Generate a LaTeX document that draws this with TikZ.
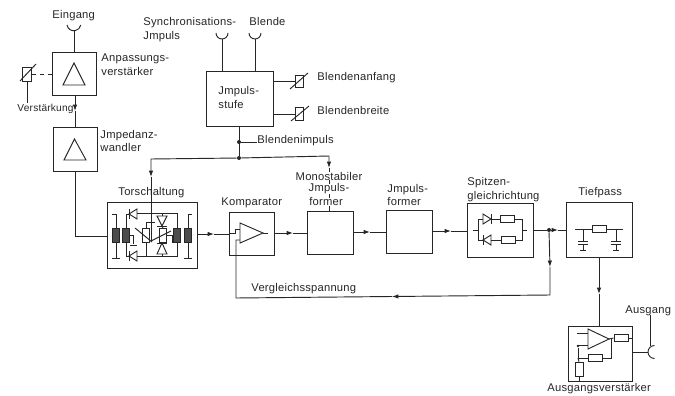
\documentclass[tikz,border=0pt]{standalone}
\usepackage{fontspec}
\setmainfont[LetterSpace=2]{Liberation Sans}
\usetikzlibrary{positioning,arrows.meta,calc}

\begin{document}
\begin{tikzpicture}[
    x=0.75pt, y=-0.75pt,
    font=\fontsize{8.4}{10.5}\selectfont,
    line width=0.7pt, black!85,
    block/.style={draw, anchor=north west, inner sep=0pt},
    lab/.style={align=left, inner sep=0pt, anchor=west, text=black!85},
    mon/.style={inner sep=0pt, fill=white, text=black!85},
    fl/.style={-{Latex[length=1.7mm,width=1.2mm]}},
    res/.style={draw, fill=white, minimum width=10.5pt, minimum height=5.5pt, inner sep=0pt},
    rv/.style={draw, fill=white, minimum width=5.5pt, minimum height=11pt, inner sep=0pt},
    core/.style={draw, fill=black!70, minimum width=5pt, minimum height=10.5pt, inner sep=0pt},
    dot/.style={circle, fill=black!85, inner sep=0pt, minimum size=3pt},
]
    \useasboundingbox (0,0) rectangle (675,396);

    % blocks
    \node[block, minimum width=33pt, minimum height=32pt] (anp) at (52,52) {};
    \node[block, minimum width=33pt, minimum height=33pt] (imp) at (53,127) {};
    \node[block, minimum width=67.5pt, minimum height=49.5pt] (tor) at (107,202) {};
    \node[block, minimum width=33.75pt, minimum height=32.25pt] (kom) at (229,212) {};
    \node[block, minimum width=34.5pt, minimum height=32.25pt] (mono) at (307,211) {};
    \node[block, minimum width=34.5pt, minimum height=32.25pt] (form) at (386,210) {};
    \node[block, minimum width=49.5pt, minimum height=40.5pt] (spi) at (467,203) {};
    \node[block, minimum width=49.5pt, minimum height=41.25pt] (tief) at (566,202) {};
    \node[block, minimum width=48pt, minimum height=41.25pt] (aus) at (568,326) {};
    \node[block, minimum width=50.25pt, minimum height=41.25pt] (stufe) at (206,71) {};

    % inputs
    \coordinate (ceing) at (74,31);
    \coordinate (csyn) at (222,39);
    \coordinate (cbl) at (255,39);
    \draw (67,25) arc[start angle=170, end angle=10, radius=7];
    \draw (216,33) arc[start angle=180, end angle=0, radius=6];
    \draw (249,33) arc[start angle=180, end angle=0, radius=6];
    \draw (ceing) -- (ceing |- anp.north);
    \draw (csyn) -- (csyn |- stufe.north);
    \draw (cbl) -- (cbl |- stufe.north);

    % triangles
    \draw (74,63) -- (85,85) -- (63,85) -- cycle;
    \draw (74.5,139) -- (86,160) -- (64,160) -- cycle;

    % Verstaerkung
    \node[rv, minimum width=6.5pt, minimum height=10.5pt] (rver) at (27,74) {};
    \draw (20,81) -- (36,64);
    \draw[dashed] (rver.east) -- (anp.west |- rver.east);
    \draw (rver.south) -- (27,103);

    % main path
    \coordinate (cver) at (75,111);
    \draw[fl] (cver |- anp.south) -- (cver);
    \draw (cver) -- (cver |- imp.north);
    \draw (imp.south) -- (imp.south |- 0,236) -- (tor.west |- 0,236);
    \draw[fl] (tor.east |- 0,234) -- (214,234);
    \draw (214,234) -- (kom.west |- 0,234);
    \draw[fl] (kom.east |- 0,233) -- (293,233);
    \draw (293,233) -- (mono.west |- 0,233);
    \draw[fl] (mono.east |- 0,232) -- (370,232);
    \draw (370,232) -- (form.west |- 0,232);
    \draw[fl] (form.east |- 0,231) -- (451,231);
    \draw (451,231) -- (spi.west |- 0,231);
    \node[dot] (djunc) at (549,230) {};
    \draw (spi.east |- djunc) -- (djunc);
    \draw[fl] (djunc) -- (558,230);
    \draw (558,230) -- (tief.west |- djunc);
    \draw[fl] (djunc) -- (550,267);
    \draw[fl] (550,267) -- (550,295) -- (392,296.5);
    \draw (392,296.5) -- (236,298) -- (236,240) -- (240,240);

    % Impulsstufe outputs
    \node[rv, minimum width=6pt, minimum height=9.5pt] (ranf) at (299,81.5) {};
    \node[rv, minimum width=6pt, minimum height=9.5pt] (rbre) at (299,114) {};
    \draw (stufe.east |- ranf) -- (ranf);
    \draw (stufe.east |- rbre) -- (rbre);
    \draw (290,89) -- (308,73);
    \draw (291,121) -- (309,106);

    % Blendenimpuls
    \node[lab] (timi) at (257,141) {Blendenimpuls};
    \node[dot] (dbl) at (239,142) {};
    \node[dot] (dbr) at (239,158) {};
    \draw (stufe.south -| dbl) -- (dbr);
    \draw (dbl) -- (timi.west |- dbl);
    \draw[fl] (dbr) -- (151,159) -- (151,177);
    \draw (151,177) -- (151,241);
    \draw[fl] (dbr) -- (329,156) -- (329,168);
    \draw (329,168) -- (mono.north -| 329,0);

    % Torschaltung inner
    \node[core] (c1) at (116,235) {};
    \node[core] (c2) at (126,235) {};
    \node[core] (c3) at (177,235) {};
    \node[core] (c4) at (188,235) {};
    \draw (112,214) -- (116,214) -- (c1.north);
    \draw (c1.south) -- (116,258);
    \draw (112,258) -- (120,258);
    \draw (192,214) -- (188,214) -- (c4.north);
    \draw (c4.south) -- (188,258);
    \draw (184,258) -- (192,258);
    \draw (c2.north) -- (126,214) -- (129,214);
    \draw (c2.south) -- (126,256) -- (129,256);
    \draw (129,214) -- (137,209) -- (137,219) -- cycle;
    \draw (129,209) -- (129,219);
    \draw (129,256) -- (137,251) -- (137,261) -- cycle;
    \draw (129,251) -- (129,261);
    \draw (137,213) -- (177,213) -- (c3.north);
    \draw (137,256) -- (177,256) -- (c3.south);
    \draw (c2.east) -- (133,235) -- (133,244);
    \draw (130,245) -- (137,245);
    \node[rv] (r1) at (146,235.5) {};
    \node[rv] (r2) at (163,235.5) {};
    \draw (r1.north) -- (146,222) -- (155,222);
    \draw (r1.south) -- (146,256);
    \draw (r2.north) -- (162,226);
    \draw (r2.south) -- (162,243);
    \draw (162,226) -- (157,216) -- (167,216) -- cycle;
    \draw (157,226) -- (167,226);
    \draw (162,216) -- (162,213);
    \draw (162,243) -- (157,254) -- (167,254) -- cycle;
    \draw (157,243) -- (167,243);
    \draw (162,254) -- (162,256);
    \draw (135,228) -- (152,242);
    \draw (171,231) -- (151,241);
    \draw (167,235) -- (172,235) -- (172,242) -- (174,242);

    % Komparator inner
    \draw (240,223) -- (263,233) -- (240,243) -- cycle;
    \draw (263,233) -- (268,233);
    \draw (kom.west |- 0,233) -- (235,233) -- (235,229) -- (240,229);

    % Spitzen inner
    \node[res] (rs1) at (507,219) {};
    \node[res] (rs2) at (508,240) {};
    \draw (473,230) -- (478,230);
    \draw (478,219) -- (478,240);
    \draw (478,219) -- (483,219);
    \draw (483,214) -- (491,219) -- (483,224) -- cycle;
    \draw (491,214) -- (491,224);
    \draw (491,219) -- (rs1.west);
    \draw (rs1.east) -- (522,219) -- (522,240) -- (rs2.east);
    \draw (rs2.west) -- (491,240);
    \draw (491,235) -- (483,240) -- (491,245) -- cycle;
    \draw (483,235) -- (483,245);
    \draw (483,240) -- (478,240);
    \draw (522,230) -- (527,230);

    % Tiefpass inner
    \node[res] (rt) at (599,229) {};
    \draw (575,229) -- (rt.west);
    \draw (rt.east) -- (623,229);
    \draw (583,229) -- (583,241);
    \draw (578,241) -- (588,241);
    \draw (578,244) -- (588,244);
    \draw (583,244) -- (583,250);
    \draw (580,250) -- (586,250);
    \draw (616,229) -- (616,241);
    \draw (611,241) -- (621,241);
    \draw (611,244) -- (621,244);
    \draw (616,244) -- (616,250);
    \draw (613,250) -- (619,250);
    \draw[fl] (tief.south -| 599,0) -- (599,294);
    \draw (599,294) -- (aus.north -| 599,0);

    % Ausgangsverstaerker inner
    \draw (588,329) -- (609,339) -- (588,349) -- cycle;
    \draw (577,333) -- (588,333);
    \draw (577,345) -- (588,345);
    \node[res] (ra1) at (621,338) {};
    \node[res] (ra2) at (595.5,358) {};
    \node[rv, minimum width=6pt] (ra3) at (579,369.5) {};
    \node[dot, minimum size=2pt] (da) at (578,346) {};
    \draw (609,339) -- (ra1.west);
    \draw (ra1.east) -- (632,338);
    \draw (611,339) -- (611,358) -- (ra2.east);
    \draw (ra2.west) -- (578,358) -- (da);
    \draw (578,358) -- (ra3.north);
    \draw (ra3.south) -- (ra3.south |- aus.south);

    % Ausgang
    \coordinate (caus) at (648,352);
    \draw (aus.east |- caus) -- (caus);
    \draw (654.5,345.5) arc[start angle=270, end angle=90, radius=6.5];
    \draw (650,346) -- (650,315);

    % labels
    \node[lab] (teing) at (52,16) {Eingang};
    \node[lab] (tanp) at (101,65) {Anpassungs-\\verstärker};
    \node[lab, font=\fontsize{7.6}{9.5}\selectfont] (tver) at (17,109) {Verstärkung};
    \node[lab, font=\fontsize{8.4}{9.5}\selectfont] (timp) at (100,141) {Jmpedanz-\\wandler};
    \node[lab] (tsyn) at (143,30) {Synchronisations-\\Jmpuls};
    \node[lab] (tbl) at (249,21) {Blende};
    \node[lab] (tstu) at (218,97) {Jmpuls-\\stufe};
    \node[lab] (tanf) at (317,78) {Blendenanfang};
    \node[lab] (tbre) at (317,110) {Blendenbreite};
    \node[lab] (ttor) at (118,193) {Torschaltung};
    \node[lab] (tkom) at (221,203) {Komparator};
    \node[mon] (tmon) at (329,176) {Monostabiler};
    \node[mon] (tmon2) at (329,189) {Jmpuls-};
    \node[mon] (tmon3) at (326,202) {former};
    \node[lab, font=\fontsize{8.4}{9.5}\selectfont] (tfor) at (387,195) {Jmpuls-\\former};
    \node[lab] (tspi) at (467,190) {Spitzen-\\gleichrichtung};
    \node[lab] (ttie) at (578,193) {Tiefpass};
    \node[lab] (tvgl) at (251,289) {Vergleichsspannung};
    \node[lab] (taus) at (625,311) {Ausgang};
    \node[lab] (tava) at (547,389) {Ausgangsverstärker};
\end{tikzpicture}
\end{document}
